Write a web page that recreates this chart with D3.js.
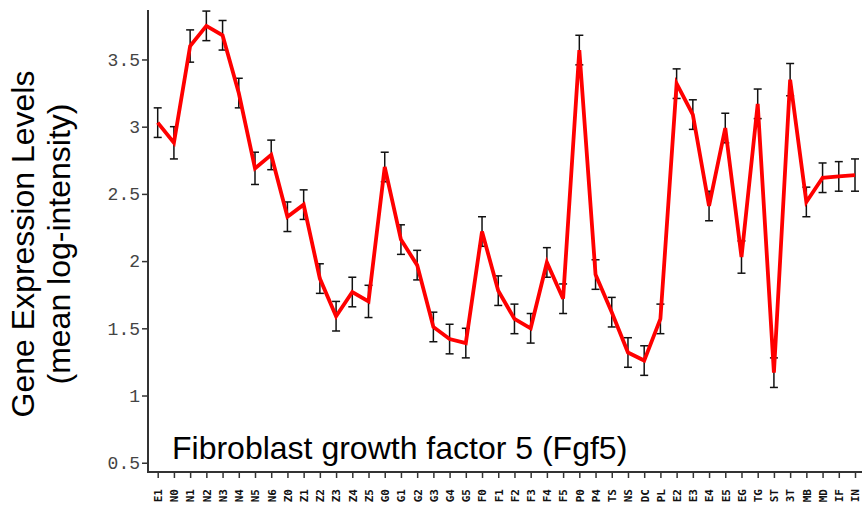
<!DOCTYPE html>
<html>
<head>
<meta charset="utf-8">
<script src="https://cdn.jsdelivr.net/npm/d3@7"></script>
<style>
  body { margin: 0; background: #fff; }
  svg { display: block; }
</style>
</head>
<body>
<div class="chart"></div>
<script>
// tissue / stage labels along the x axis
var labels = ["E1", "N0", "N1", "N2", "N3", "N4", "N5", "N6",
    "Z0", "Z1", "Z2", "Z3", "Z4", "Z5",
    "G0", "G1", "G2", "G3", "G4", "G5",
    "F0", "F1", "F2", "F3", "F4", "F5",
    "P0", "P4", "TS", "NS", "DC", "PL",
    "E2", "E3", "E4", "E5", "EG", "TG", "ST", "3T",
    "MB", "MD", "IF", "IN"];

// mean log-intensity per label
var means = [3.03, 2.88, 3.60, 3.75, 3.68, 3.25, 2.69, 2.79,
    2.33, 2.42, 1.87, 1.59, 1.77, 1.70,
    2.70, 2.16, 1.97, 1.51, 1.42, 1.39,
    2.22, 1.78, 1.57, 1.50, 1.99, 1.72,
    3.57, 1.90, 1.62, 1.32, 1.26, 1.57,
    3.32, 3.09, 2.41, 2.99, 2.03, 3.17, 1.17, 3.35,
    2.44, 2.62, 2.63, 2.64];

// half length of each error bar
var errs = [0.11, 0.12, 0.12, 0.11, 0.11, 0.11, 0.12, 0.11,
    0.11, 0.11, 0.11, 0.11, 0.11, 0.12,
    0.11, 0.11, 0.11, 0.11, 0.11, 0.11,
    0.11, 0.11, 0.11, 0.11, 0.11, 0.11,
    0.11, 0.11, 0.11, 0.11, 0.11, 0.11,
    0.11, 0.11, 0.11, 0.11, 0.12, 0.11, 0.11, 0.12,
    0.11, 0.11, 0.11, 0.12];

var yTicks = [0.5, 1, 1.5, 2, 2.5, 3, 3.5];

var title = "Fibroblast growth factor 5 (Fgf5)";
var yTitle = ["Gene Expression Levels", "(mean log-intensity)"];

var data = labels.map(function (d, i) {
    return { label: d, mean: means[i], err: errs[i] };
});

var W = 865, H = 510;
var plotLeft = 148, plotRight = 862, plotTop = 10, plotBottom = 472;

var svg = d3.select(".chart").append("svg")
    .attr("width", W)
    .attr("height", H);

var x = d3.scalePoint()
    .domain(labels)
    .range([157.7, 855]);

var y = d3.scaleLinear()
    .domain([0.431, 3.868])
    .range([plotBottom, plotTop]);

// y axis
var yAxis = d3.axisLeft(y)
    .tickValues(yTicks)
    .tickSize(6)
    .tickSizeOuter(0)
    .tickPadding(2)
    .tickFormat(function (d) { return d3.format("")(d); });

var gy = svg.append("g")
    .attr("transform", "translate(" + plotLeft + ",0)")
    .call(yAxis);
gy.select(".domain").remove();
gy.selectAll(".tick line").attr("stroke", "#333").attr("stroke-width", 1.5);
gy.selectAll(".tick text")
    .attr("fill", "#444")
    .style("font-family", "'Liberation Mono', 'DejaVu Sans Mono', monospace")
    .style("font-size", "18px");

// x axis
var xAxis = d3.axisBottom(x)
    .tickSize(6)
    .tickSizeOuter(0);

var gx = svg.append("g")
    .attr("transform", "translate(0," + plotBottom + ")")
    .call(xAxis);
gx.select(".domain").remove();
gx.selectAll(".tick line").attr("stroke", "#333").attr("stroke-width", 1.5);
gx.selectAll(".tick text")
    .attr("fill", "#111")
    .attr("transform", "rotate(-90)")
    .attr("x", -17)
    .attr("y", 0)
    .attr("dy", "0.35em")
    .style("text-anchor", "end")
    .style("font-family", "'DejaVu Sans Mono', monospace")
    .style("font-weight", "bold")
    .style("font-size", "11px");

// axis lines
svg.append("path")
    .attr("d", "M" + plotLeft + "," + plotTop + "V" + plotBottom + "H" + plotRight)
    .attr("fill", "none")
    .attr("stroke", "#333")
    .attr("stroke-width", 2);

// error bars
var bars = svg.selectAll(".err")
    .data(data)
    .enter().append("g")
    .attr("class", "err")
    .attr("stroke", "#111")
    .attr("stroke-width", 1.5);

bars.append("line")
    .attr("x1", function (d) { return x(d.label); })
    .attr("x2", function (d) { return x(d.label); })
    .attr("y1", function (d) { return y(d.mean + d.err); })
    .attr("y2", function (d) { return y(d.mean - d.err); });

bars.append("line")
    .attr("x1", function (d) { return x(d.label) - 4; })
    .attr("x2", function (d) { return x(d.label) + 4; })
    .attr("y1", function (d) { return y(d.mean + d.err); })
    .attr("y2", function (d) { return y(d.mean + d.err); });

bars.append("line")
    .attr("x1", function (d) { return x(d.label) - 4; })
    .attr("x2", function (d) { return x(d.label) + 4; })
    .attr("y1", function (d) { return y(d.mean - d.err); })
    .attr("y2", function (d) { return y(d.mean - d.err); });

// mean line
var line = d3.line()
    .x(function (d) { return x(d.label); })
    .y(function (d) { return y(d.mean); });

svg.append("path")
    .datum(data)
    .attr("d", line)
    .attr("fill", "none")
    .attr("stroke", "#ff0000")
    .attr("stroke-width", 3.8)
    .attr("stroke-linejoin", "miter");

// gene title inside the plot
svg.append("text")
    .attr("x", 172)
    .attr("y", 459)
    .style("font-family", "'Liberation Sans', Arial, sans-serif")
    .style("font-size", "32px")
    .attr("fill", "#000")
    .text(title);

// y axis title, two lines
svg.append("g")
    .attr("transform", "translate(0,244) rotate(-90)")
    .selectAll("text")
    .data(yTitle)
    .enter().append("text")
    .attr("x", 0)
    .attr("y", function (d, i) { return 34 + i * 36; })
    .style("text-anchor", "middle")
    .style("font-family", "'Liberation Sans', Arial, sans-serif")
    .style("font-size", "32px")
    .attr("fill", "#000")
    .text(function (d) { return d; });
</script>
</body>
</html>
